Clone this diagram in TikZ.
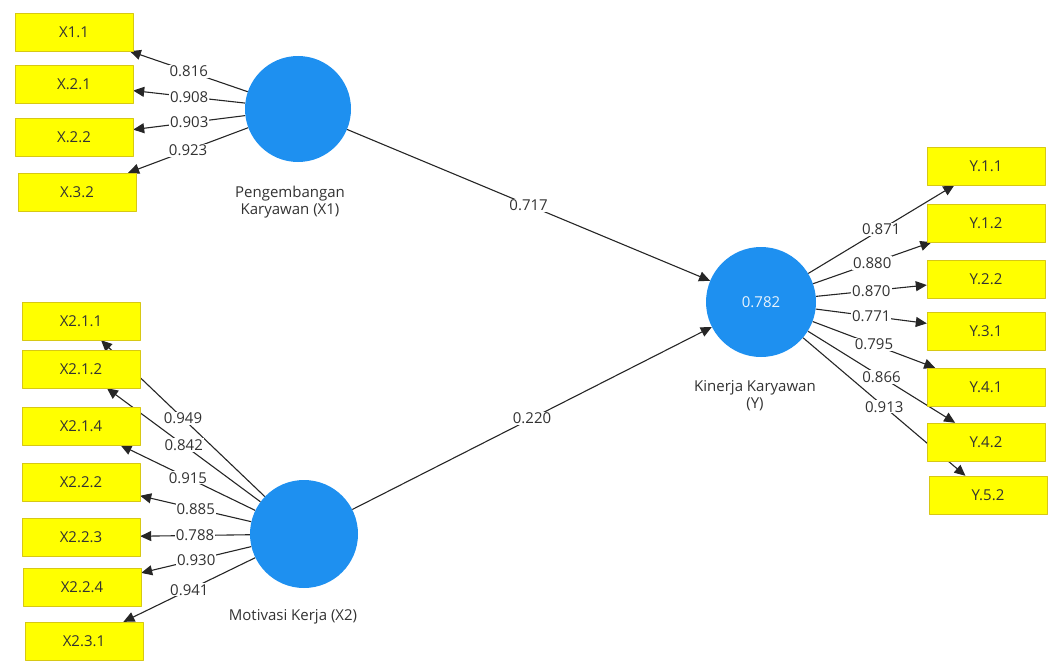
\documentclass[tikz,border=0pt]{standalone}
\usepackage{fontspec}
\setmainfont{Open Sans}
\usetikzlibrary{arrows.meta,positioning,backgrounds}

\definecolor{lvblue}{RGB}{30,144,240}
\definecolor{indyellow}{RGB}{255,255,0}
\definecolor{indborder}{RGB}{215,200,20}
\definecolor{txtgray}{RGB}{50,50,50}

\begin{document}
\begin{tikzpicture}[x=1pt, y=-1pt, line cap=round, line join=round,
  font=\fontsize{15}{17}\selectfont,
  indbox/.style={draw=indborder, fill=indyellow, minimum width=118pt,
    minimum height=38pt, inner sep=0pt, text=txtgray},
  latent/.style={circle, fill=lvblue, minimum size=108pt, inner sep=0pt,
    text=white!90!lvblue},
  lvname/.style={align=center, text=txtgray},
  path/.style={draw=black!85, line width=1.1pt,
    -{Triangle[length=11pt,width=10pt]}},
  coef/.style={fill=white, inner sep=1pt, text=txtgray}]

  \useasboundingbox (0,0) rectangle (1054,661);

  % Latent variables
  \node[latent, minimum size=106pt] (x1) at (298,109) {};
  \node[latent] (x2) at (304,534) {};
  \node[latent, minimum size=110pt] (y) at (761,302) {0.782};

  \node[lvname, below=20pt of x1, xshift=-8pt] (x1name) {Pengembangan\\Karyawan (X1)};
  \node[lvname, below=18pt of x2, xshift=-11pt] (x2name) {Motivasi Kerja (X2)};
  \node[lvname, below=20pt of y, xshift=-6pt] (yname) {Kinerja Karyawan\\(Y)};

  % Indicators of X1
  \foreach \nm/\txt/\x/\y in {x11/X1.1/74/32, x21/X.2.1/74/84,
      x22/X.2.2/74/137, x32/X.3.2/77/192}
    \node[indbox] (\nm) at (\x,\y) {\txt};

  % Indicators of X2
  \foreach \nm/\txt/\x/\y in {m211/X2.1.1/81/321, m212/X2.1.2/81/369,
      m214/X2.1.4/81/426, m222/X2.2.2/81/482, m223/X2.2.3/81/537,
      m224/X2.2.4/82/587, m231/X2.3.1/84/641}
    \node[indbox] (\nm) at (\x,\y) {\txt};

  % Indicators of Y
  \foreach \nm/\txt/\x/\y in {y11/Y.1.1/986/166, y12/Y.1.2/986/223,
      y22/Y.2.2/986/279, y31/Y.3.1/986/331, y41/Y.4.1/986/387,
      y42/Y.4.2/986/442, y52/Y.5.2/988/495}
    \node[indbox] (\nm) at (\x,\y) {\txt};

  \begin{pgfonlayer}{background}
    % Outer loadings
    \foreach \nm/\val in {x11/0.816, x21/0.908, x22/0.903, x32/0.923}
      \draw[path] (x1) -- node[coef] {\val} (\nm);
    \foreach \nm/\val in {m211/0.949, m212/0.842, m214/0.915, m222/0.885,
        m223/0.788, m224/0.930, m231/0.941}
      \draw[path] (x2) -- node[coef] {\val} (\nm);
    \foreach \nm/\val in {y11/0.871, y12/0.880, y22/0.870, y31/0.771,
        y41/0.795, y42/0.866, y52/0.913}
      \draw[path] (y) -- node[coef] {\val} (\nm);

    % Path coefficients
    \draw[path] (x1) -- node[coef] {0.717} (y);
    \draw[path] (x2) -- node[coef] {0.220} (y);
  \end{pgfonlayer}

\end{tikzpicture}
\end{document}
